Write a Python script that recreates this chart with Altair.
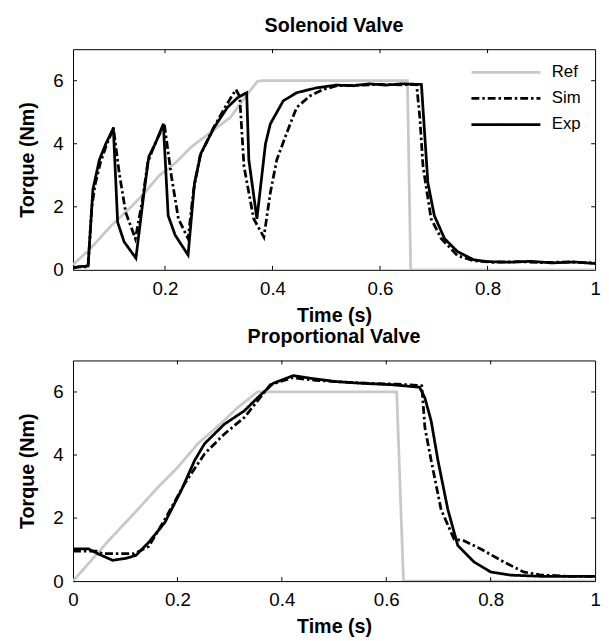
import altair as alt
import pandas as pd

# ---------------- data ----------------
series_order = ["Ref", "Sim", "Exp"]

# Solenoid valve
sol_ref_t = [0.029, 0.06, 0.10, 0.139, 0.16, 0.188, 0.22, 0.249, 0.28, 0.322, 0.35, 0.372, 0.38, 0.651, 0.657, 1.0]
sol_ref_v = [0.16, 0.65, 1.40, 2.03, 2.40, 2.97, 3.40, 3.90, 4.30, 4.84, 5.50, 5.98, 6.0, 6.0, 0.0, 0.0]

sol_sim_t = [0.029, 0.057, 0.064, 0.07, 0.08, 0.09, 0.102, 0.104, 0.115, 0.127, 0.145, 0.158, 0.168, 0.18,
             0.197, 0.199, 0.212, 0.225, 0.243, 0.253, 0.265, 0.29, 0.315, 0.332, 0.339, 0.347, 0.365, 0.384,
             0.396, 0.408, 0.426, 0.445, 0.469, 0.494, 0.52, 0.56, 0.60, 0.64, 0.668, 0.674, 0.68, 0.695,
             0.714, 0.744, 0.774, 0.81, 0.86, 0.90, 0.95, 1.0]
sol_sim_v = [0.08, 0.10, 2.0, 2.7, 3.4, 3.9, 4.4, 4.52, 3.07, 1.82, 0.99, 2.2, 3.4, 3.95,
             4.55, 4.6, 2.97, 1.62, 0.99, 2.5, 3.6, 4.5, 5.25, 5.72, 5.5, 3.28, 1.62, 1.04,
             2.45, 3.49, 4.32, 5.15, 5.51, 5.72, 5.84, 5.86, 5.88, 5.87, 5.88, 4.84, 3.28, 1.62,
             0.99, 0.45, 0.29, 0.24, 0.26, 0.23, 0.25, 0.22]

sol_exp_t = [0.029, 0.04, 0.057, 0.066, 0.078, 0.09, 0.102, 0.104, 0.112, 0.124, 0.146, 0.161, 0.17, 0.182,
             0.197, 0.206, 0.219, 0.243, 0.255, 0.267, 0.292, 0.316, 0.335, 0.352, 0.356, 0.371, 0.387,
             0.396, 0.42, 0.445, 0.481, 0.518, 0.55, 0.58, 0.61, 0.64, 0.677, 0.683, 0.689, 0.701, 0.72,
             0.744, 0.774, 0.80, 0.84, 0.88, 0.92, 0.96, 1.0]
sol_exp_v = [0.05, 0.10, 0.12, 2.55, 3.49, 4.0, 4.42, 4.5, 1.51, 0.89, 0.37, 2.45, 3.59, 4.0,
             4.63, 1.72, 1.10, 0.47, 2.76, 3.70, 4.53, 5.15, 5.46, 5.62, 3.49, 1.62, 4.0,
             4.63, 5.36, 5.62, 5.77, 5.86, 5.84, 5.90, 5.86, 5.90, 5.88, 4.32, 2.76, 1.72, 0.99,
             0.58, 0.32, 0.26, 0.24, 0.27, 0.22, 0.25, 0.20]

# Proportional valve
pro_ref_t = [0.0, 0.069, 0.12, 0.164, 0.20, 0.239, 0.28, 0.315, 0.353, 0.62, 0.633, 1.0]
pro_ref_v = [0.0, 1.30, 2.20, 3.0, 3.60, 4.36, 4.95, 5.50, 6.0, 6.0, 0.0, 0.0]

pro_sim_t = [0.0, 0.045, 0.057, 0.117, 0.145, 0.176, 0.214, 0.252, 0.29, 0.328, 0.353, 0.378, 0.42, 0.46,
             0.50, 0.56, 0.62, 0.668, 0.674, 0.686, 0.705, 0.73, 0.749, 0.781, 0.825, 0.863, 0.894, 0.95, 1.0]
pro_sim_v = [0.95, 0.95, 0.87, 0.87, 1.10, 1.96, 3.10, 4.04, 4.67, 5.19, 5.71, 6.23, 6.45, 6.38,
             6.33, 6.28, 6.25, 6.20, 4.87, 3.83, 2.27, 1.33, 1.28, 1.02, 0.61, 0.29, 0.20, 0.15, 0.15]

pro_exp_t = [0.0, 0.03, 0.05, 0.076, 0.10, 0.12, 0.145, 0.176, 0.208, 0.233, 0.252, 0.29, 0.328, 0.353,
             0.384, 0.422, 0.453, 0.504, 0.548, 0.611, 0.664, 0.674, 0.686, 0.699, 0.718, 0.737, 0.768,
             0.80, 0.838, 0.90, 1.0]
pro_exp_v = [1.02, 1.02, 0.85, 0.66, 0.72, 0.81, 1.23, 1.86, 2.90, 3.83, 4.36, 4.98, 5.40, 5.81,
             6.28, 6.52, 6.44, 6.33, 6.28, 6.23, 6.15, 5.81, 5.08, 3.83, 2.27, 1.13, 0.61,
             0.29, 0.19, 0.15, 0.15]

sol_x_ticks = [0.2, 0.4, 0.6, 0.8, 1.0]
pro_x_ticks = [0.0, 0.2, 0.4, 0.6, 0.8, 1.0]
y_ticks = [0, 2, 4, 6]
inner_x_ticks = [0.2, 0.4, 0.6, 0.8]
inner_y_ticks = [2, 4, 6]

# ---------------- styling ----------------
FONT = "Liberation Sans"
W, H = 530, 224
TL = 4  # inward tick length
LW = 2.8
colors = ["#c8c8c8", "#000000", "#000000"]
dashes = [[1, 0], [8, 3, 2.5, 3], [1, 0]]


def long_df(parts):
    rows = []
    for name, ts, vs in parts:
        for i, (t, v) in enumerate(zip(ts, vs)):
            rows.append({"t": t, "v": v, "series": name, "i": i})
    return pd.DataFrame(rows)


def panel(df, title, xdomain, xvalues, show_legend):
    xscale = alt.Scale(domain=xdomain, nice=False, zero=False)
    yscale = alt.Scale(domain=[0, 7], nice=False)
    xaxis = alt.Axis(values=xvalues, format="~g", title="Time (s)",
                     labelFlush=False, labelOverlap=False)
    yaxis = alt.Axis(values=y_ticks, title="Torque (Nm)",
                     labelFlush=False, labelOverlap=False)
    if show_legend:
        legend = alt.Legend(
            orient="none", legendX=431, legendY=15, title=None,
            symbolType="M-5,0H5", symbolSize=196, symbolStrokeWidth=LW,
            labelFont=FONT, labelFontSize=17, labelColor="black",
            labelOffset=38, rowPadding=8.5, padding=0,
        )
    else:
        legend = None
    lines = alt.Chart(df).mark_line(strokeWidth=LW, clip=True).encode(
        x=alt.X("t:Q", scale=xscale, axis=xaxis),
        y=alt.Y("v:Q", scale=yscale, axis=yaxis),
        color=alt.Color("series:N", sort=series_order,
                        scale=alt.Scale(domain=series_order, range=colors), legend=legend),
        strokeDash=alt.StrokeDash("series:N", sort=series_order,
                                  scale=alt.Scale(domain=series_order, range=dashes), legend=legend),
        order="i:Q",
    )
    xt = alt.Chart(pd.DataFrame({"t": inner_x_ticks})).mark_rule(color="black", strokeWidth=1)
    yt = alt.Chart(pd.DataFrame({"v": inner_y_ticks})).mark_rule(color="black", strokeWidth=1)
    xb = xt.encode(x=alt.X("t:Q", scale=xscale, axis=xaxis), y=alt.value(H), y2=alt.value(H - TL))
    xtop = xt.encode(x=alt.X("t:Q", scale=xscale, axis=xaxis), y=alt.value(0), y2=alt.value(TL))
    yl = yt.encode(y=alt.Y("v:Q", scale=yscale, axis=yaxis), x=alt.value(0), x2=alt.value(TL))
    yr = yt.encode(y=alt.Y("v:Q", scale=yscale, axis=yaxis), x=alt.value(W - TL), x2=alt.value(W))
    return alt.layer(lines, xb, xtop, yl, yr).properties(
        width=W, height=H,
        title=alt.TitleParams(title, font=FONT, fontSize=20, fontWeight="bold",
                              anchor="middle", color="black", offset=13),
    )


sol_df = long_df([("Ref", sol_ref_t, sol_ref_v), ("Sim", sol_sim_t, sol_sim_v), ("Exp", sol_exp_t, sol_exp_v)])
pro_df = long_df([("Ref", pro_ref_t, pro_ref_v), ("Sim", pro_sim_t, pro_sim_v), ("Exp", pro_exp_t, pro_exp_v)])

top = panel(sol_df, "Solenoid Valve", [0.029, 1.0], sol_x_ticks, True)
bottom = panel(pro_df, "Proportional Valve", [0.0, 1.0], pro_x_ticks, False)

chart = alt.vconcat(top, bottom, spacing=1).resolve_scale(
    x="independent", y="independent", color="independent", strokeDash="independent"
).resolve_legend(color="independent", strokeDash="independent").configure_axis(
    labelFont=FONT, labelFontSize=19, labelColor="black", labelPadding=10,
    titleFont=FONT, titleFontSize=20, titleFontWeight="bold", titleColor="black",
    ticks=False, domain=False, grid=False,
).configure_axisX(titlePadding=7.5).configure_axisY(titlePadding=16).configure_view(
    stroke="black", strokeWidth=1
).properties(padding={"left": 8, "top": 3, "right": 0, "bottom": 0})

chart.save("out.html", embed_options={"renderer": "svg", "actions": False})
